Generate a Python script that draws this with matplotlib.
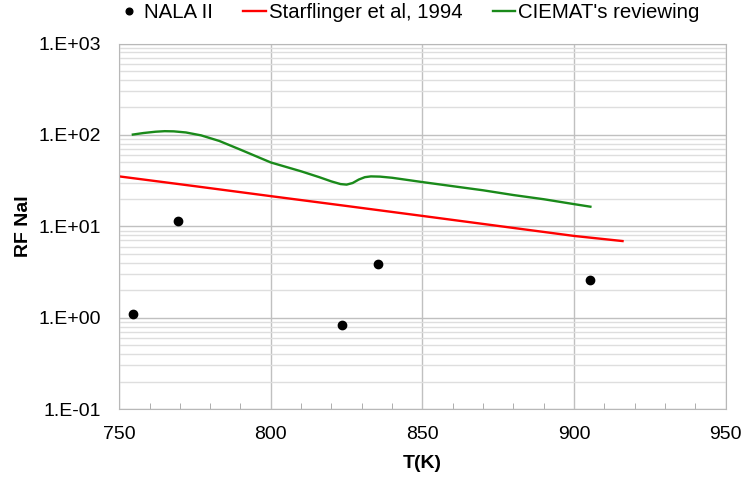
import numpy as np
import matplotlib.pyplot as plt
from matplotlib.ticker import MultipleLocator, LogLocator, FuncFormatter

plt.rcParams['font.family'] = ['Liberation Sans', 'DejaVu Sans']

# --- data ---
nala_T = [754.6, 769.5, 823.4, 835.3, 905.2]
nala_rf = [1.1, 11.4, 0.83, 3.9, 2.57]

starf_T = [750, 775, 800, 825, 850, 875, 900, 916]
starf_rf = [35.2, 27.5, 21.4, 16.7, 13.0, 10.1, 7.85, 6.9]

ciemat_T = [754.5, 758, 762, 765, 768, 772, 777, 783, 790, 800, 810, 816,
            820, 823, 825, 827, 829, 831, 833, 836, 840, 850, 860, 870,
            880, 890, 900, 905.4]
ciemat_rf = [101, 105, 108.5, 110, 109.5, 106.5, 99, 86, 69, 50, 40, 34.5,
             31, 29, 28.6, 29.8, 32.5, 34.5, 35.2, 35, 34, 30.5, 27.5, 24.8,
             22, 19.8, 17.5, 16.4]

fig = plt.figure(figsize=(7.45, 4.79), dpi=100)
ax = fig.add_axes([0.16, 0.146, 0.814, 0.763])

ax.plot(nala_T, nala_rf, 'o', color='black', ms=6, label='NALA II', zorder=5)
ax.plot(starf_T, starf_rf, color='#ff0000', lw=1.7, label='Starflinger et al, 1994')
ax.plot(ciemat_T, ciemat_rf, color='#1a8a1a', lw=1.7, label="CIEMAT's reviewing")

ax.set_yscale('log')
ax.set_xlim(750, 950)
ax.set_ylim(0.1, 1000)
ax.xaxis.set_major_locator(MultipleLocator(50))
ax.xaxis.set_minor_locator(MultipleLocator(10))
ax.yaxis.set_major_locator(LogLocator(base=10))
ax.yaxis.set_minor_locator(LogLocator(base=10, subs=np.arange(2, 10)))
ax.yaxis.set_major_formatter(FuncFormatter(lambda v, p: '1.E%+03d' % round(np.log10(v))))
ax.yaxis.set_minor_formatter(FuncFormatter(lambda v, p: ''))

ax.grid(True, which='major', color='#c0c0c0', lw=1.0)
ax.grid(True, which='minor', axis='y', color='#dedede', lw=1.0)
ax.set_axisbelow(True)

ax.tick_params(which='major', length=0, labelsize=14)
ax.tick_params(axis='x', which='major', pad=12)
ax.tick_params(axis='y', which='major', pad=13)
ax.tick_params(axis='x', which='minor', direction='in', length=4, color='#a0a0a0')
ax.tick_params(axis='y', which='minor', length=0)
for s in ax.spines.values():
    s.set_color('#b8b8b8')

ax.set_xlabel('T(K)', fontsize=14, fontweight='bold', labelpad=9)
ax.set_ylabel('RF NaI', fontsize=14, fontweight='bold', labelpad=5)

fig.legend(loc='center', bbox_to_anchor=(409 / 745, 1 - 13 / 479), ncol=3,
           frameon=False, fontsize=14.7, handlelength=1.1, handletextpad=0.15,
           columnspacing=1.5, markerscale=0.8, borderaxespad=0)

plt.savefig('out.png', dpi=100)
